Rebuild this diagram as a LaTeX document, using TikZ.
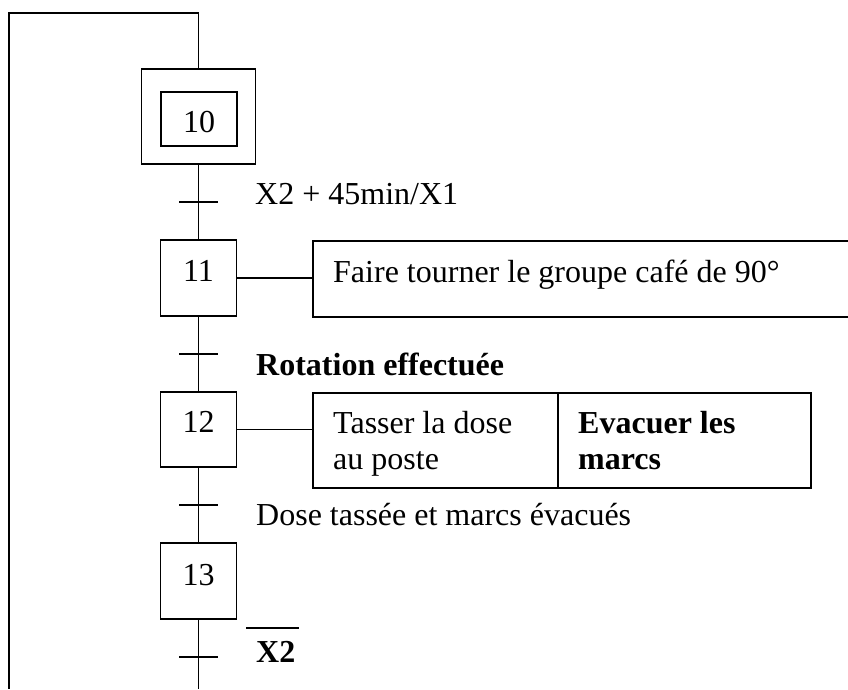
\documentclass[tikz,border=0pt]{standalone}
\usepackage{fontspec}
\setmainfont{Liberation Serif}
\usetikzlibrary{calc}
\begin{document}
\begin{tikzpicture}[x=1pt,y=-1pt,
  ln/.style={line width=1.9pt},
  stepbox/.style={draw,line width=1.9pt,minimum width=76pt,minimum height=76pt,inner sep=0pt},
  txt/.style={inner sep=0pt,anchor=base west,font=\fontsize{32}{36}\selectfont},
  btxt/.style={txt,font=\fontsize{32}{36}\selectfont\bfseries},
  num/.style={inner sep=0pt,anchor=base,font=\fontsize{32}{36}\selectfont},
  actbox/.style={draw,line width=1.9pt,inner sep=0pt,anchor=north west}]
\useasboundingbox (0,0) rectangle (848,689);
% steps
\node[stepbox,minimum width=114pt,minimum height=95pt] (s10) at (198.5,116.5) {};
\node[stepbox,minimum width=76pt,minimum height=54pt] (i10) at (199,119) {};
\node[num] (n10) at (199,132) {10};
\node[stepbox] (s11) at (198.5,278) {};
\node[num] (n11) at (198.5,281) {11};
\node[stepbox,minimum height=75pt] (s12) at (198.5,429.5) {};
\node[num] (n12) at (198.5,432.5) {12};
\node[stepbox] (s13) at (198.5,581) {};
\node[num] (n13) at (198.5,585.5) {13};
% loop coordinates
\coordinate (tr) at (198.5,13);
\coordinate (tl) at (9,13);
\coordinate (bl) at (9,689);
\coordinate (bot) at (198.5,689);
% vertical links
\draw[ln] (s10.north) -- (tr) -- (tl) -- (bl);
\draw[ln] (s10.south) -- (s11.north);
\draw[ln] (s11.south) -- (s12.north);
\draw[ln] (s12.south) -- (s13.north);
\draw[ln] (s13.south) -- (bot);
% transitions
\coordinate (t1) at (198.5,202);
\coordinate (t2) at (198.5,354);
\coordinate (t3) at (198.5,505);
\coordinate (t4) at (198.5,657);
\foreach \t in {t1,t2,t3,t4}{
  \draw[ln] ($(\t)+(-19.5,0)$) -- ($(\t)+(19.5,0)$);
}
% receptivities
\node[txt] (c1) at (255,204) {X2 + 45min/X1};
\node[btxt] (c2) at (256,375) {Rotation effectuée};
\node[txt] (c3) at (256,525) {Dose tassée et marcs évacués};
\node[btxt] (c4) at (256,662) {X2};
\draw[ln] ($(c4.base west)+(-10,-34)$) -- ($(c4.base east)+(3,-34)$);
% actions
\node[actbox,minimum width=540pt,minimum height=76pt] (a11) at (312,240) {};
\draw[ln] (s11.east) -- (s11.east -| a11.west);
\node[txt] (f11) at (333,282) {Faire tourner le groupe café de 90°};
\node[actbox,minimum width=498pt,minimum height=95pt] (a12) at (312,392) {};
\draw[ln] ($(a12.north west)+(245.7,0)$) -- ($(a12.south west)+(245.7,0)$);
\draw[ln] (s12.east) -- (s12.east -| a12.west);
\node[txt] (f12a) at (333,433) {Tasser la dose};
\node[txt] (f12b) at (333,469) {au poste};
\node[btxt] (f12c) at (578,433) {Evacuer les};
\node[btxt] (f12d) at (578,469) {marcs};
\end{tikzpicture}
\end{document}
